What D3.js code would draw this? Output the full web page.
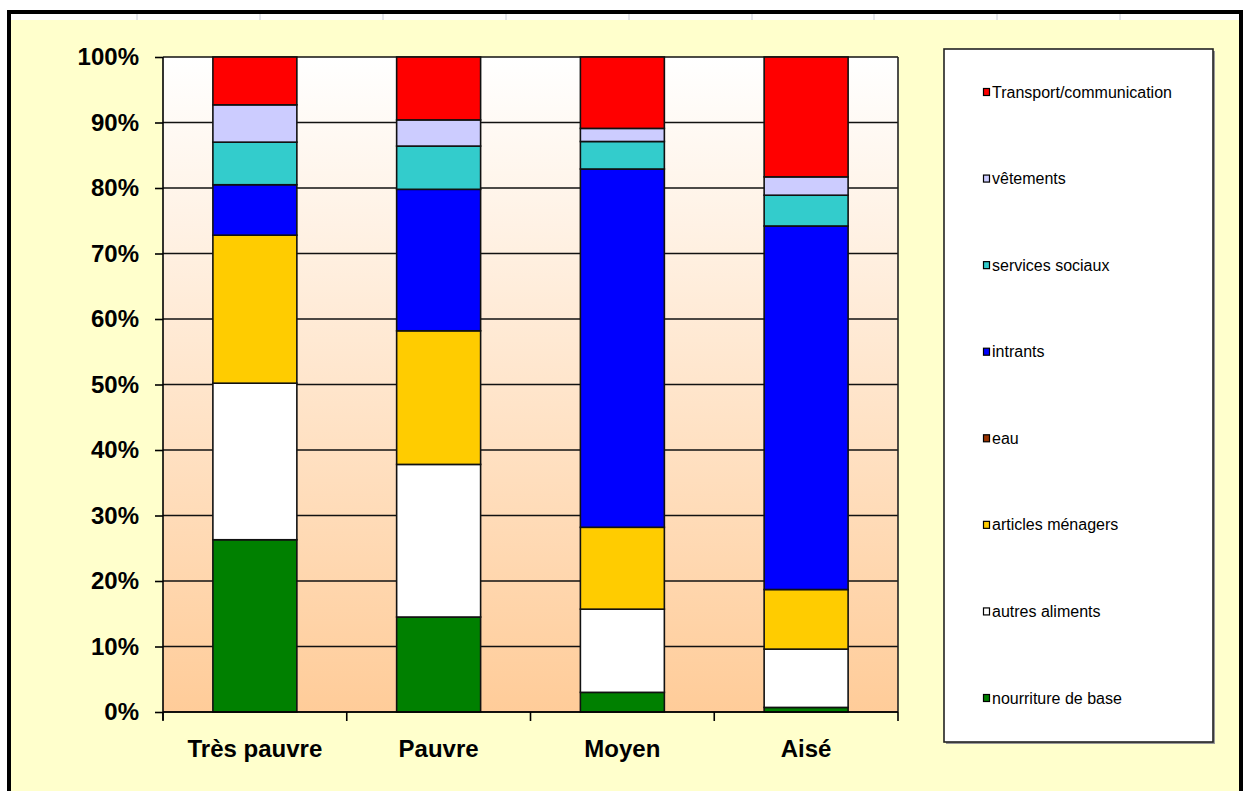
<!DOCTYPE html>
<html>
<head>
<meta charset="utf-8">
<script src="https://cdn.jsdelivr.net/npm/d3@7"></script>
<style>
  body { margin: 0; background: #fff; }
  svg { display: block; }
</style>
</head>
<body>
<div id="chart"></div>
<script>
// categories and series, bottom of the stack first
var categories = ['Très pauvre', 'Pauvre', 'Moyen', 'Aisé'];
var seriesNames = ['nourriture de base', 'autres aliments', 'articles ménagers', 'eau',
                   'intrants', 'services sociaux', 'vêtements', 'Transport/communication'];
var seriesColors = ['#008000', '#ffffff', '#ffcc00', '#993300',
                    '#0000ff', '#33cccc', '#ccccff', '#ff0000'];

// values in %, one array per category, same order as seriesNames
var tresPauvre = [26.3, 23.9, 22.6, 0, 7.7, 6.5, 5.7, 7.3];
var pauvre     = [14.5, 23.3, 20.4, 0, 21.6, 6.6, 4.0, 9.6];
var moyen      = [3.0, 12.7, 12.5, 0, 54.7, 4.2, 2.0, 10.9];
var aise       = [0.7, 8.9, 9.1, 0, 55.5, 4.7, 2.8, 18.3];
var valuesByCat = [tresPauvre, pauvre, moyen, aise];

var yTicks = [0, 10, 20, 30, 40, 50, 60, 70, 80, 90, 100];

var W = 1244, H = 791;
var svg = d3.select('#chart').append('svg')
	.attr('width', W)
	.attr('height', H);

// page background + spreadsheet strip
svg.append('rect').attr('x', 0).attr('y', 0).attr('width', W).attr('height', H).attr('fill', '#ffffff');
svg.append('rect').attr('x', 9).attr('y', 12).attr('width', 1232).attr('height', H).attr('fill', '#ffffcc');
svg.append('rect').attr('x', 11).attr('y', 14).attr('width', 1229).attr('height', 6).attr('fill', '#ffffff');
[137, 260, 383, 506, 629, 752, 874, 997, 1120].forEach(function(x){
	svg.append('line').attr('x1', x).attr('x2', x).attr('y1', 14).attr('y2', 20)
		.attr('stroke', '#c8ccd8').attr('stroke-width', 1);
});
svg.append('path')
	.attr('d', 'M9,' + H + ' L9,12 L1241,12 L1241,' + H)
	.attr('fill', 'none').attr('stroke', '#000').attr('stroke-width', 4);

var margin = {left: 163, top: 57, right: 898, bottom: 712};

var defs = svg.append('defs');
var grad = defs.append('linearGradient').attr('id', 'plotGrad')
	.attr('x1', 0).attr('y1', 0).attr('x2', 0).attr('y2', 1);
grad.append('stop').attr('offset', '0%').attr('stop-color', '#ffffff');
grad.append('stop').attr('offset', '100%').attr('stop-color', '#ffcc99');

var x = d3.scaleBand()
	.domain(categories)
	.range([margin.left, margin.right])
	.paddingInner(0.543)
	.paddingOuter(0.2715);

var y = d3.scaleLinear()
	.domain([0, 100])
	.range([margin.bottom, margin.top]);

// plot area
svg.append('rect')
	.attr('x', margin.left).attr('y', margin.top)
	.attr('width', margin.right - margin.left)
	.attr('height', margin.bottom - margin.top)
	.attr('fill', 'url(#plotGrad)');

// gridlines
svg.append('g').selectAll('line')
	.data(yTicks)
	.enter()
	.append('line')
	.attr('x1', margin.left).attr('x2', margin.right)
	.attr('y1', function(d){ return y(d); })
	.attr('y2', function(d){ return y(d); })
	.attr('stroke', '#111').attr('stroke-width', 1.6);

svg.append('line')
	.attr('x1', margin.right).attr('x2', margin.right)
	.attr('y1', margin.top).attr('y2', margin.bottom)
	.attr('stroke', '#222').attr('stroke-width', 1.6);

// stacked bars
var rows = categories.map(function(c, i){
	var row = {cat: c};
	seriesNames.forEach(function(s, j){ row[s] = valuesByCat[i][j]; });
	return row;
});
var stacked = d3.stack().keys(seriesNames)(rows);

svg.append('g').selectAll('g')
	.data(stacked)
	.enter()
	.append('g')
	.attr('fill', function(d, i){ return seriesColors[i]; })
	.selectAll('rect')
	.data(function(d){ return d.filter(function(p){ return p[1] - p[0] > 0; }); })
	.enter()
	.append('rect')
	.attr('x', function(d){ return x(d.data.cat); })
	.attr('width', x.bandwidth())
	.attr('y', function(d){ return y(d[1]); })
	.attr('height', function(d){ return y(d[0]) - y(d[1]); })
	.attr('stroke', '#111')
	.attr('stroke-width', 1.6);

// y axis
var yAxis = svg.append('g')
	.attr('transform', 'translate(' + margin.left + ',0)')
	.call(d3.axisLeft(y).tickValues(yTicks).tickSize(8).tickPadding(16)
		.tickFormat(function(d){ return d + '%'; }));
yAxis.selectAll('path, line').attr('stroke', '#000').attr('stroke-width', 1.6);
yAxis.select('.domain').attr('d', 'M0,' + margin.top + 'V' + (margin.bottom + 8));
yAxis.selectAll('text')
	.attr('font-family', 'Liberation Sans, Arial, sans-serif')
	.attr('font-weight', 'bold')
	.attr('font-size', '24px')
	.attr('fill', '#000');

// x axis: ticks between categories
var boundaries = d3.range(0, categories.length + 1);
var xb = d3.scaleLinear().domain([0, categories.length]).range([margin.left, margin.right]);
svg.append('line')
	.attr('x1', margin.left).attr('x2', margin.right)
	.attr('y1', margin.bottom).attr('y2', margin.bottom)
	.attr('stroke', '#000').attr('stroke-width', 1.6);
svg.append('g').selectAll('line')
	.data(boundaries)
	.enter()
	.append('line')
	.attr('x1', function(d){ return xb(d); })
	.attr('x2', function(d){ return xb(d); })
	.attr('y1', margin.bottom).attr('y2', margin.bottom + 9)
	.attr('stroke', '#000').attr('stroke-width', 1.6);

svg.append('g').selectAll('text')
	.data(categories)
	.enter()
	.append('text')
	.attr('x', function(d){ return x(d) + x.bandwidth() / 2; })
	.attr('y', 757)
	.attr('text-anchor', 'middle')
	.attr('font-family', 'Liberation Sans, Arial, sans-serif')
	.attr('font-weight', 'bold')
	.attr('font-size', '24px')
	.attr('fill', '#000')
	.text(function(d){ return d; });

// legend
svg.append('rect')
	.attr('x', 946).attr('y', 51).attr('width', 269).attr('height', 693)
	.attr('fill', '#999');
svg.append('rect')
	.attr('x', 944).attr('y', 49).attr('width', 269).attr('height', 693)
	.attr('fill', '#fff').attr('stroke', '#222').attr('stroke-width', 1.6);

var legendOrder = d3.range(seriesNames.length).reverse();
var ly = d3.scaleLinear().domain([0, legendOrder.length - 1]).range([92, 698]);

var items = svg.append('g').selectAll('g')
	.data(legendOrder)
	.enter()
	.append('g')
	.attr('transform', function(d, i){ return 'translate(0,' + ly(i) + ')'; });
items.append('rect')
	.attr('x', 983.5).attr('y', -3.5).attr('width', 6).attr('height', 7)
	.attr('fill', function(d){ return seriesColors[d]; })
	.attr('stroke', '#000').attr('stroke-width', 1.2);
items.append('text')
	.attr('x', 992).attr('y', 5.5)
	.attr('font-family', 'Liberation Sans, Arial, sans-serif')
	.attr('font-size', '16px')
	.attr('fill', '#000')
	.text(function(d){ return seriesNames[d]; });
</script>
</body>
</html>
